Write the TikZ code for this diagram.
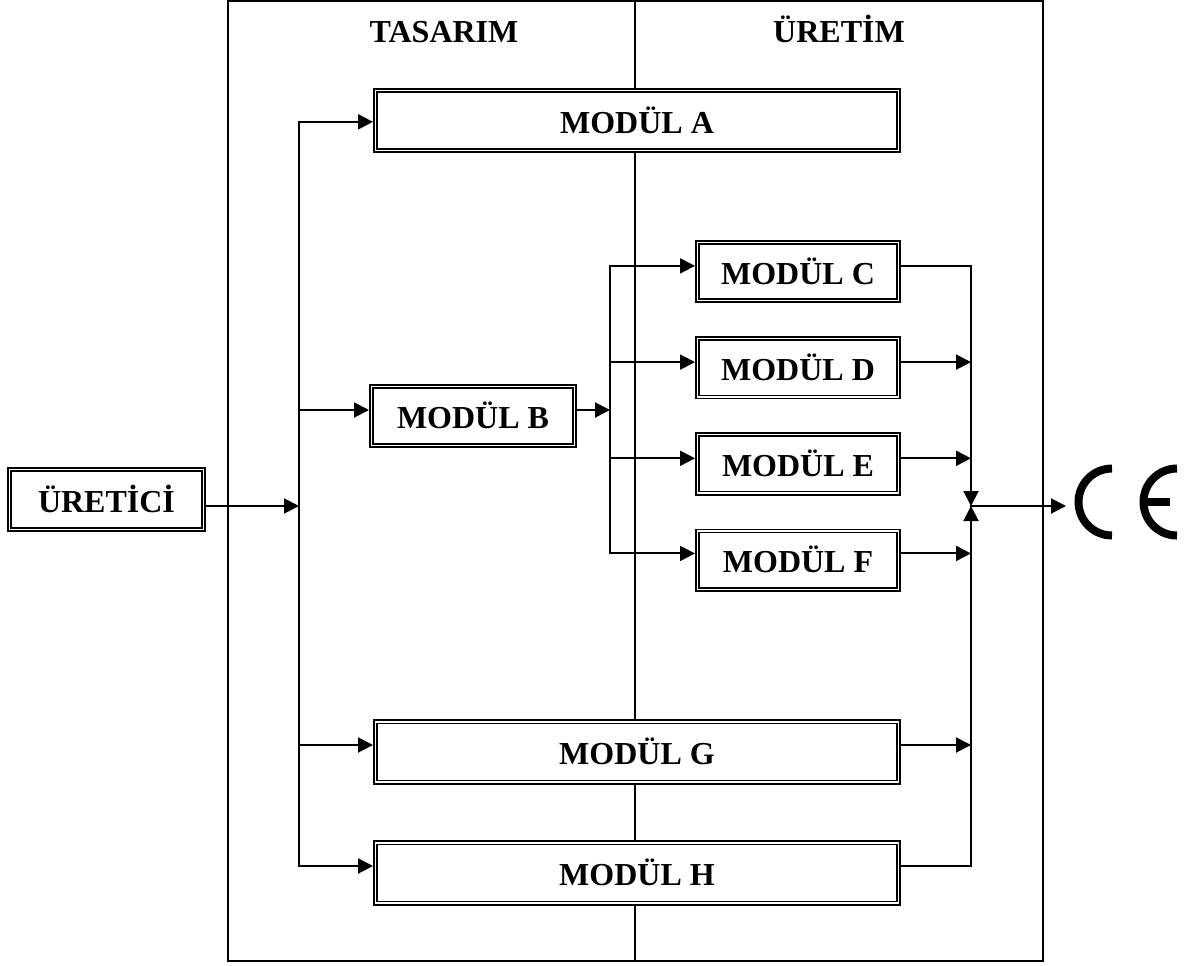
\documentclass[tikz,border=0pt]{standalone}
\usepackage{fontspec}
\setmainfont{Liberation Serif}
\usetikzlibrary{arrows.meta}
\usetikzlibrary{positioning}
\tikzstyle{wall}=[line width=1.5pt]
\tikzstyle{wire}=[line width=1.5pt, line cap=rect]
\tikzstyle{title}=[font=\fontsize{24}{28}\selectfont\bfseries, text height=15.8pt, text depth=0pt, inner sep=0pt]
\tikzstyle{modul}=[title, text height=18.8pt, rectangle, draw, fill=white, double, line width=1.3pt, double distance=1pt, outer sep=1.8pt]
\tikzstyle{wide}=[modul, minimum width=392.4pt, minimum height=45.2pt]
\tikzstyle{small}=[modul, minimum width=150.9pt, minimum height=43.8pt]
\tikzstyle{cemark}=[line width=6pt]

\begin{document}
\begin{tikzpicture}[x=0.75pt, y=-0.75pt, >={Triangle[length=11.25pt, width=11.25pt]}]
    \useasboundingbox (0,0) rectangle (1186,965);

    % frame
    \coordinate (FT) at (635,1);
    \coordinate (FB) at (635,961);
    \draw[wall] (228,1) rectangle (1043,961);
    \draw[wall] (FT) -- (FB);
    \node[title] (Tas) at (444,32) {TASARIM};
    \node[title] (Ure) at (839,32) {ÜRETİM};

    % nodes
    \node[wide] (A) at (637,120.5) {MODÜL A};
    \node[wide] (G) at (637,752) {MODÜL G};
    \node[wide] (H) at (637,873) {MODÜL H};
    \node[small, minimum width=152.4pt] (B) at (473,416) {MODÜL B};
    \node[small] (C) at (798,271.5) {MODÜL C};
    \node[small, below=24.75pt of C] (D) {MODÜL D};
    \node[small, below=24.75pt of D] (E) {MODÜL E};
    \node[small, below=24.75pt of E] (F) {MODÜL F};
    \node[small, minimum width=145.6pt, minimum height=45pt] (U) at (106.5,499.5) {ÜRETİCİ};

    % ports
    \coordinate (Ain) at ([yshift=-1pt]A.west);
    \coordinate (Bin) at ([yshift=4.5pt]B.west);
    \coordinate (Bout) at ([yshift=4.5pt]B.east);
    \coordinate (Cin) at ([yshift=4.2pt]C.west);
    \coordinate (Cout) at ([yshift=4.2pt]C.east);
    \coordinate (Din) at ([yshift=4.2pt]D.west);
    \coordinate (Dout) at ([yshift=4.2pt]D.east);
    \coordinate (Ein) at ([yshift=4.2pt]E.west);
    \coordinate (Eout) at ([yshift=4.2pt]E.east);
    \coordinate (Fin) at ([yshift=5pt]F.west);
    \coordinate (Fout) at ([yshift=5pt]F.east);
    \coordinate (Gin) at ([yshift=5.25pt]G.west);
    \coordinate (Gout) at ([yshift=5.25pt]G.east);
    \coordinate (Hin) at ([yshift=5.25pt]H.west);
    \coordinate (Hout) at ([yshift=5.25pt]H.east);

    % buses
    \coordinate (P) at (299,506);
    \coordinate (Q) at (610,410);
    \coordinate (R) at (971,506);
    \coordinate (CE) at (1066,506);

    \draw[wire, ->] (U.east |- P) -- (P);
    \draw[wire] (P |- Ain) -- (P |- Hin);
    \draw[wire, ->] (P |- Ain) -- (Ain);
    \draw[wire, ->] (P |- Bin) -- (Bin);
    \draw[wire, ->] (P |- Gin) -- (Gin);
    \draw[wire, ->] (P |- Hin) -- (Hin);

    \draw[wire, ->] (Bout) -- (Q);
    \draw[wire] (Q |- Cin) -- (Q |- Fin);
    \draw[wire, ->] (Q |- Cin) -- (Cin);
    \draw[wire, ->] (Q |- Din) -- (Din);
    \draw[wire, ->] (Q |- Ein) -- (Ein);
    \draw[wire, ->] (Q |- Fin) -- (Fin);

    \draw[wire, ->] (Cout) -| (R);
    \draw[wire, ->] (Hout) -| (R);
    \draw[wire, ->] (Dout) -- (R |- Dout);
    \draw[wire, ->] (Eout) -- (R |- Eout);
    \draw[wire, ->] (Fout) -- (R |- Fout);
    \draw[wire, ->] (Gout) -- (R |- Gout);
    \draw[wire, ->] (R) -- (CE);

    % CE mark
    \draw[cemark] (1112,468.5) arc[start angle=270, end angle=90, radius=33.5];
    \draw[cemark] (1177,468.5) arc[start angle=270, end angle=90, radius=33.5];
    \draw[cemark] (1144,502) -- (1170,502);
\end{tikzpicture}
\end{document}
